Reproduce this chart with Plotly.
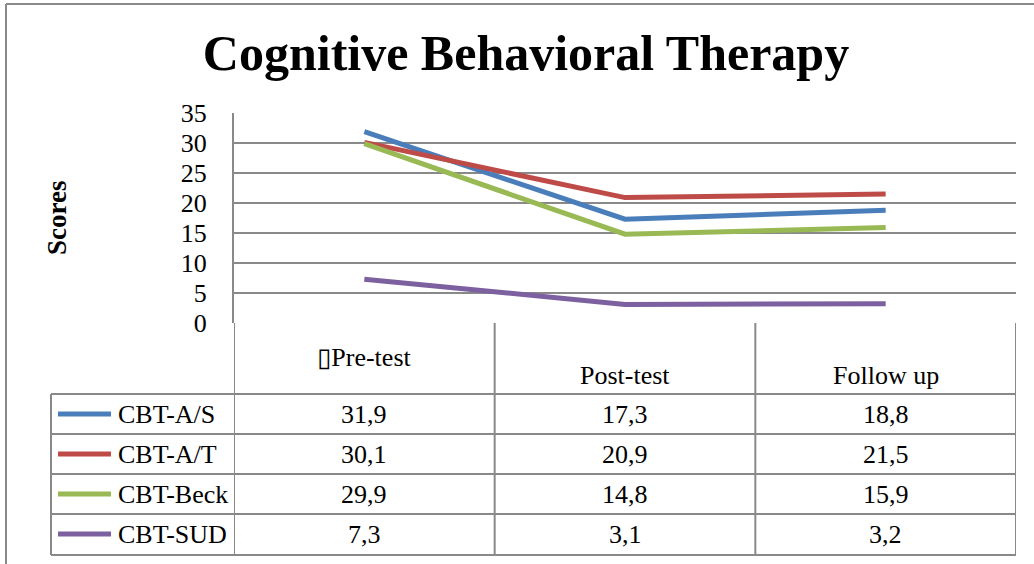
import plotly.graph_objects as go

stages = ["Pre-test", "Post-test", "Follow up"]
stage_labels = ["\u25afPre-test", "Post-test", "Follow up"]
series_names = ["CBT-A/S", "CBT-A/T", "CBT-Beck", "CBT-SUD"]
cbt_as = [31.9, 17.3, 18.8]
cbt_at = [30.1, 20.9, 21.5]
cbt_beck = [29.9, 14.8, 15.9]
cbt_sud = [7.3, 3.1, 3.2]
colors = ["#4a7ebb", "#be4b48", "#98b954", "#7d60a0"]
y_ticks = [0, 5, 10, 15, 20, 25, 30, 35]

values = [cbt_as, cbt_at, cbt_beck, cbt_sud]

W, H = 1034, 564
L, R, T, B = 234, 1016, 113, 323  # plot area in pixels
FONT = "Liberation Serif, DejaVu Serif, serif"
GRID = "#898989"


def px(x):
    return (x - L) / (R - L)


def py(y):
    return (B - y) / (B - T)


fig = go.Figure()
for name, vals, c in zip(series_names, values, colors):
    fig.add_trace(go.Scatter(x=list(range(len(stages))), y=vals, name=name,
                             mode="lines", line=dict(color=c, width=5),
                             showlegend=False, hoverinfo="x+y+name"))

shapes = []
line = dict(color=GRID, width=2)
# outer chart border (left and top)
shapes.append(dict(type="line", xref="paper", yref="paper", x0=px(6), x1=px(W + 5),
                   y0=py(4), y1=py(4), line=line))
shapes.append(dict(type="line", xref="paper", yref="paper", x0=px(6), x1=px(6),
                   y0=py(4), y1=py(H + 5), line=line))
# data table: column separators
for i in range(len(stages) + 1):
    shapes.append(dict(type="line", xref="x", yref="paper", x0=i - 0.5, x1=i - 0.5,
                       y0=0, y1=py(555), line=line))
shapes.append(dict(type="line", xref="paper", yref="paper", x0=px(51), x1=px(51),
                   y0=py(394), y1=py(555), line=line))
# data table: row separators
for yy in [394, 434, 474, 514, 555]:
    shapes.append(dict(type="line", xref="paper", yref="paper", x0=px(51), x1=1,
                       y0=py(yy), y1=py(yy), line=line))

annotations = []
header_y = [357, 375, 375]
for i, (lab, hy) in enumerate(zip(stage_labels, header_y)):
    annotations.append(dict(x=i, y=py(hy), xref="x", yref="paper", text=lab,
                            xanchor="center", yanchor="middle", showarrow=False,
                            font=dict(size=26, color="black")))

row_y = [414, 454, 494, 534]
for name, vals, c, ry in zip(series_names, values, colors, row_y):
    shapes.append(dict(type="line", xref="paper", yref="paper", x0=px(58), x1=px(111),
                       y0=py(ry), y1=py(ry), line=dict(color=c, width=5)))
    annotations.append(dict(x=px(116), y=py(ry), xref="paper", yref="paper", text=name,
                            xanchor="left", yanchor="middle", showarrow=False,
                            font=dict(size=26, color="black")))
    for i, v in enumerate(vals):
        annotations.append(dict(x=i, y=py(ry), xref="x", yref="paper",
                                text=f"{v:.1f}".replace(".", ","), showarrow=False,
                                xanchor="center", yanchor="middle",
                                font=dict(size=26, color="black")))

annotations.append(dict(x=px(57), y=py(218), xref="paper", yref="paper", text="<b>Scores</b>",
                        textangle=-90, xanchor="center", yanchor="middle", showarrow=False,
                        font=dict(size=27, color="black")))

fig.update_layout(
    width=W, height=H,
    margin=dict(l=L, r=W - R, t=T, b=H - B, pad=0),
    paper_bgcolor="white", plot_bgcolor="white",
    font=dict(family=FONT, color="black"),
    title=dict(text="<b>Cognitive Behavioral Therapy</b>", x=526 / W, y=1 - 52 / H,
               xanchor="center", yanchor="middle", font=dict(size=50, color="black")),
    xaxis=dict(range=[-0.5, 2.5], showticklabels=False, showgrid=False, zeroline=False,
               showline=False, fixedrange=True),
    yaxis=dict(range=[0, 35], tickvals=y_ticks, showgrid=True, gridcolor=GRID, gridwidth=2,
               zeroline=False, showline=True, linecolor=GRID, linewidth=2,
               tickfont=dict(size=26, color="black"), ticklabelstandoff=20, fixedrange=True),
    shapes=shapes,
    annotations=annotations,
)

fig.write_html("out.html", config={"displayModeBar": False},
               post_script="document.body.style.margin = '0';")
